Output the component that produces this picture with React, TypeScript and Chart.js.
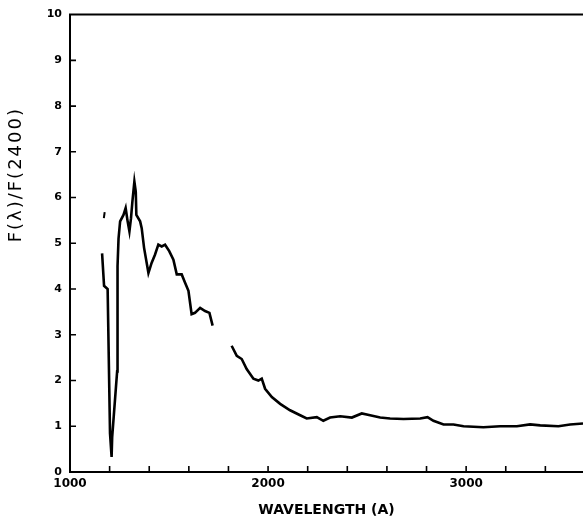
import { useEffect, useRef } from "react";
import { Chart, registerables } from "chart.js";

Chart.register(...registerables);

// Short-wavelength segment (Å, F(λ)/F(2400))
const waveA = [1162, 1172, 1190, 1202, 1210, 1213, 1238, 1240, 1245, 1253, 1270, 1281, 1291, 1300, 1308, 1315, 1325, 1332, 1335, 1354, 1362, 1374, 1396, 1412, 1429, 1446, 1463, 1480, 1501, 1522, 1539, 1564, 1581, 1598, 1614, 1631, 1657, 1682, 1704, 1720];
const fluxA = [4.78, 4.07, 4.0, 0.85, 0.33, 0.77, 2.2, 4.5, 5.1, 5.48, 5.62, 5.77, 5.48, 5.26, 5.55, 5.91, 6.35, 6.13, 5.62, 5.48, 5.33, 4.9, 4.35, 4.57, 4.75, 4.97, 4.93, 4.97, 4.83, 4.64, 4.32, 4.32, 4.14, 3.96, 3.45, 3.48, 3.59, 3.52, 3.48, 3.2];

// Long-wavelength segment
const waveB = [1816, 1842, 1867, 1892, 1926, 1951, 1968, 1985, 2019, 2061, 2111, 2162, 2195, 2246, 2279, 2313, 2364, 2423, 2473, 2515, 2566, 2616, 2684, 2768, 2805, 2835, 2886, 2936, 2987, 3087, 3172, 3256, 3323, 3374, 3466, 3525, 3590];
const fluxB = [2.76, 2.54, 2.47, 2.25, 2.04, 2.0, 2.04, 1.82, 1.64, 1.49, 1.35, 1.24, 1.17, 1.2, 1.12, 1.19, 1.22, 1.19, 1.28, 1.24, 1.19, 1.17, 1.16, 1.17, 1.2, 1.12, 1.04, 1.04, 1.0, 0.98, 1.0, 1.0, 1.04, 1.02, 1.0, 1.04, 1.06];

// Isolated short mark
const waveMark = [1171, 1175];
const fluxMark = [5.55, 5.68];

// Gap between segments
const gapWave = 1770;

const xLabelValues = [1000, 2000, 3000];
const xMinorStep = 200;
const yTickValues = [0, 1, 2, 3, 4, 5, 6, 7, 8, 9, 10];
const xTitle = "WAVELENGTH (A)";
const yTitle = "F(λ)/F(2400)";

const X_MIN = 1000;
const X_MAX = 3590;

const framePlugin = {
  id: "frame",
  afterDraw(chart: any) {
    const { ctx, chartArea } = chart;
    const xs = chart.scales.x;
    const ys = chart.scales.y;
    ctx.save();
    ctx.strokeStyle = "#000";
    ctx.lineWidth = 2;
    ctx.beginPath();
    ctx.moveTo(chartArea.left - 1, chartArea.top);
    ctx.lineTo(chartArea.right, chartArea.top);
    ctx.stroke();
    ctx.lineWidth = 1.6;
    ctx.beginPath();
    for (const v of yTickValues) {
      if (v === 0 || v === 10) continue;
      const y = ys.getPixelForValue(v);
      ctx.moveTo(chartArea.left, y);
      ctx.lineTo(chartArea.left + 6, y);
    }
    for (let w = X_MIN + xMinorStep; w < X_MAX; w += xMinorStep) {
      const x = xs.getPixelForValue(w);
      ctx.moveTo(x, chartArea.bottom);
      ctx.lineTo(x, chartArea.bottom - 6);
    }
    ctx.stroke();
    // y-axis title
    ctx.translate(16, chartArea.top + (chartArea.bottom - chartArea.top) * 0.35);
    ctx.rotate(-Math.PI / 2);
    ctx.fillStyle = "#000";
    ctx.font = "18px 'DejaVu Sans'";
    (ctx as any).letterSpacing = "2px";
    ctx.textAlign = "center";
    ctx.textBaseline = "middle";
    ctx.fillText(yTitle, 0, 0);
    ctx.restore();
  },
};

export default function App() {
  const ref = useRef<HTMLCanvasElement>(null);
  useEffect(() => {
    document.body.style.margin = "0";
    const pts = (w: number[], f: number[]) => w.map((x, i) => ({ x, y: f[i] }));
    const chart = new Chart(ref.current as HTMLCanvasElement, {
      type: "line",
      data: {
        datasets: [
          {
            data: [...pts(waveA, fluxA), { x: gapWave, y: null as any }, ...pts(waveB, fluxB)],
            borderColor: "#000",
            borderWidth: 2.6,
            pointRadius: 0,
            tension: 0,
            spanGaps: false,
            fill: false,
          },
          {
            data: pts(waveMark, fluxMark),
            borderColor: "#000",
            borderWidth: 2,
            pointRadius: 0,
            tension: 0,
            fill: false,
          },
        ],
      },
      options: {
        responsive: false,
        animation: false,
        layout: { padding: { top: 12, right: 0, left: 0, bottom: 0 } },
        plugins: { legend: { display: false }, tooltip: { enabled: false } },
        scales: {
          x: {
            type: "linear",
            min: X_MIN,
            max: X_MAX,
            afterBuildTicks: (s: any) => {
              s.ticks = xLabelValues.map((v) => ({ value: v }));
            },
            ticks: {
              autoSkip: false,
              maxRotation: 0,
              minRotation: 0,
              padding: 5,
              color: "#000",
              font: { family: "'DejaVu Sans'", size: 12, weight: "bold" },
              callback: (v: any) => String(v),
            },
            grid: { display: false, drawTicks: false },
            border: { display: true, color: "#000", width: 2 },
            title: {
              display: true,
              text: xTitle,
              color: "#000",
              font: { family: "'DejaVu Sans'", size: 14, weight: "bold" },
              padding: { top: 0, bottom: 6 },
            },
            afterFit: (s: any) => {
              s.height = 53;
              s.paddingRight = 0;
            },
          },
          y: {
            min: 0,
            max: 10,
            ticks: {
              stepSize: 1,
              padding: 8,
              color: "#000",
              font: { family: "'DejaVu Sans'", size: 11, weight: "bold" },
            },
            grid: { display: false, drawTicks: false },
            border: { display: true, color: "#000", width: 2 },
            afterFit: (s: any) => {
              s.width = 70;
            },
          },
        },
      },
      plugins: [framePlugin],
    });
    return () => chart.destroy();
  }, []);
  return (
    <div style={{ width: 583, height: 525, background: "#fff" }}>
      <canvas ref={ref} width={583} height={525} style={{ display: "block" }} />
    </div>
  );
}
